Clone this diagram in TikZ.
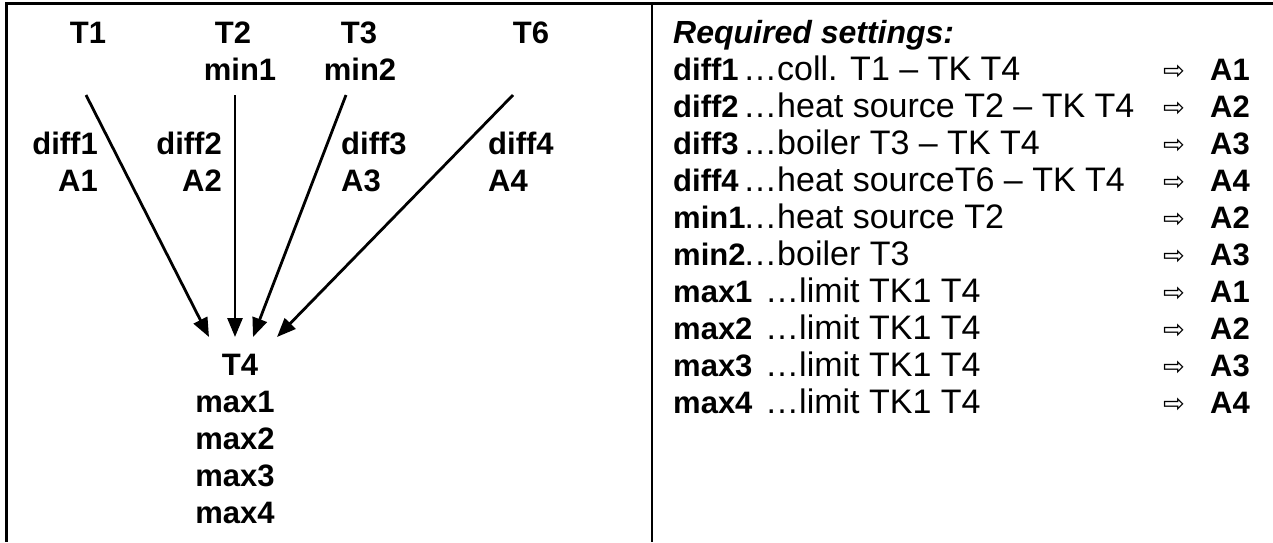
\documentclass[tikz,border=0pt]{standalone}
\usepackage{fontspec}
\setmainfont{Liberation Sans}
\newfontfamily\symfont{DejaVu Sans}
\usetikzlibrary{arrows.meta}
\begin{document}
\begin{tikzpicture}[x=1pt,y=-1pt,
  lbl/.style={font=\fontsize{31}{37}\selectfont\bfseries, inner sep=0pt},
  rtxt/.style={font=\fontsize{34}{37}\selectfont, inner sep=0pt, anchor=base west},
  rlab/.style={font=\fontsize{31}{37}\selectfont\bfseries, inner sep=0pt, anchor=base west},
  rsym/.style={font=\symfont\fontsize{26}{30}\selectfont, inner sep=0pt, anchor=base west},
  arr/.style={line width=2.8pt, -{Triangle[length=19pt,width=15pt]}},
  framel/.style={line width=3pt}]
\useasboundingbox (0,0) rectangle (1273,542);
\draw[framel] (5,3) -- (1273,3);
\draw[framel] (6,3) -- (6,542);
\draw[line width=2pt] (652,3) -- (652,542);
% left panel labels
\node[lbl, anchor=base] (t1) at (88,43) {T1};
\node[lbl, anchor=base] (t2) at (233,43) {T2};
\node[lbl, anchor=base] (min1) at (240,80) {min1};
\node[lbl, anchor=base] (t3) at (359,43) {T3};
\node[lbl, anchor=base] (min2) at (360,80) {min2};
\node[lbl, anchor=base] (t6) at (531,43) {T6};
\node[lbl, anchor=base east] (d1) at (98,154) {diff1};
\node[lbl, anchor=base east] (a1) at (98,191) {A1};
\node[lbl, anchor=base east] (d2) at (222,154) {diff2};
\node[lbl, anchor=base east] (a2) at (222,191) {A2};
\node[lbl, anchor=base west] (d3) at (341,154) {diff3};
\node[lbl, anchor=base west] (a3) at (341,191) {A3};
\node[lbl, anchor=base west] (d4) at (488,154) {diff4};
\node[lbl, anchor=base west] (a4) at (488,191) {A4};
\node[lbl, anchor=base] (t4) at (240,375) {T4};
\node[lbl, anchor=base] (mx1) at (235,412) {max1};
\node[lbl, anchor=base] (mx2) at (235,449) {max2};
\node[lbl, anchor=base] (mx3) at (235,486) {max3};
\node[lbl, anchor=base] (mx4) at (235,523) {max4};
% arrows
\coordinate (s1) at (86,95);  \coordinate (e1) at (209,337);
\coordinate (s2) at (235,95); \coordinate (e2) at (235,337);
\coordinate (s3) at (346,95); \coordinate (e3) at (253,337);
\coordinate (s6) at (513,95); \coordinate (e6) at (277,337);
\draw[arr] (s1) -- (e1);
\draw[arr] (s2) -- (e2);
\draw[arr] (s3) -- (e3);
\draw[arr] (s6) -- (e6);
% right panel
\node[font=\fontsize{32}{37}\selectfont\bfseries\itshape, inner sep=0pt, anchor=base west] (req) at (673,43) {Required settings:};
\foreach \lab/\txt/\out/\tx [count=\k from 1] in {
  diff1/{…coll. T1 – TK T4}/A1/743,
  diff2/{…heat source T2 – TK T4}/A2/743,
  diff3/{…boiler T3 – TK T4}/A3/743,
  diff4/{…heat sourceT6 – TK T4}/A4/743,
  min1/{…heat source T2}/A2/743,
  min2/{…boiler T3}/A3/743,
  max1/{…limit TK1 T4}/A1/765,
  max2/{…limit TK1 T4}/A2/765,
  max3/{…limit TK1 T4}/A3/765,
  max4/{…limit TK1 T4}/A4/765}{
  \pgfmathsetmacro{\yy}{43+37*\k}
  \node[rlab] (rl\k) at (673,\yy) {\lab};
  \node[rtxt] (rt\k) at (\tx,\yy) {\txt};
  \node[rsym] (rs\k) at (1163,\yy-1) {⇨};
  \node[rlab] (ro\k) at (1210,\yy) {\out};
}
\end{tikzpicture}
\end{document}
